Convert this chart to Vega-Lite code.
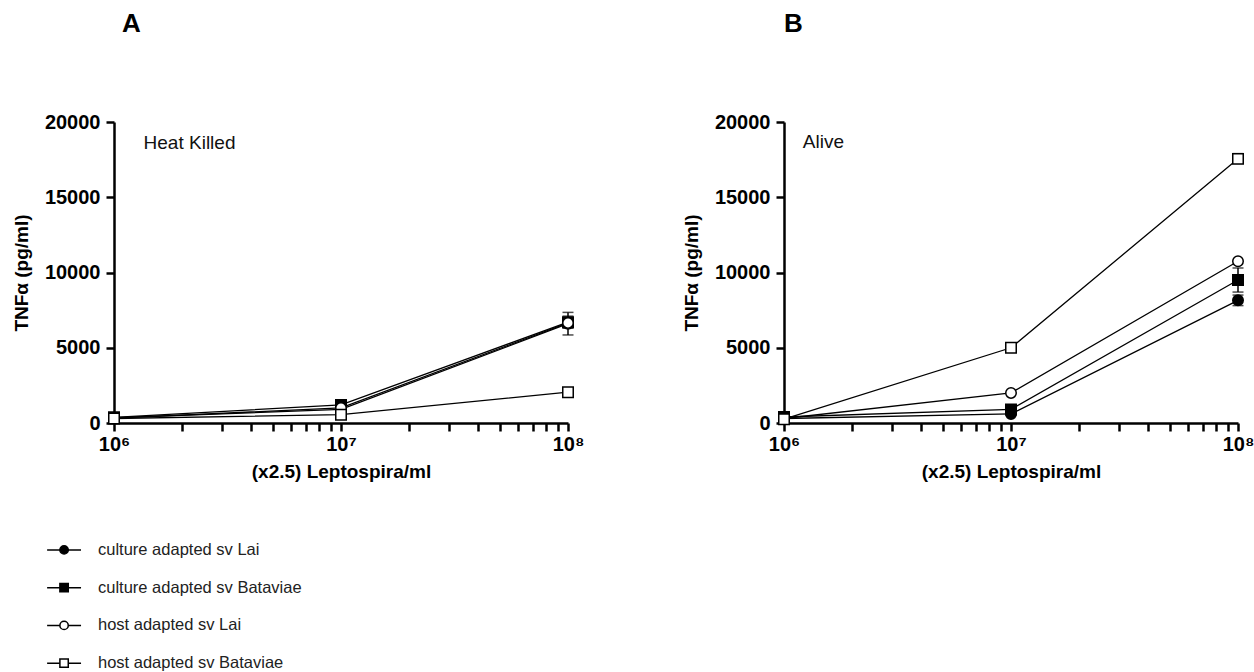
{
  "$schema": "https://vega.github.io/schema/vega-lite/v6.json",
  "padding": {"left": 12, "top": 11, "right": 5, "bottom": 0},
  "background": "white",
  "config": {
    "view": {"stroke": null},
    "font": "Liberation Sans",
    "axis": {
      "grid": false,
      "domainColor": "black", "domainWidth": 2.5,
      "tickColor": "black", "tickWidth": 2.5, "tickSize": 8,
      "labelFont": "Liberation Sans", "labelFontSize": 20, "labelFontWeight": "bold", "labelColor": "black",
      "titleFont": "Liberation Sans", "titleFontSize": 19, "titleFontWeight": "bold", "titleColor": "black"
    },
    "title": {"font": "Liberation Sans", "fontSize": 26, "fontWeight": "bold", "color": "black", "anchor": "start", "frame": "group"}
  },
  "datasets": {
    "tnf": [
      {"panel": "A", "series": "culture adapted sv Lai", "dose": 1000000, "tnf": 350, "lo": null, "hi": null},
      {"panel": "A", "series": "culture adapted sv Lai", "dose": 10000000, "tnf": 900, "lo": null, "hi": null},
      {"panel": "A", "series": "culture adapted sv Lai", "dose": 100000000, "tnf": 6600, "lo": 5850, "hi": 7350},
      {"panel": "A", "series": "culture adapted sv Bataviae", "dose": 1000000, "tnf": 380, "lo": null, "hi": null},
      {"panel": "A", "series": "culture adapted sv Bataviae", "dose": 10000000, "tnf": 1200, "lo": 1000, "hi": 1400},
      {"panel": "A", "series": "culture adapted sv Bataviae", "dose": 100000000, "tnf": 6700, "lo": 6300, "hi": 7100},
      {"panel": "A", "series": "host adapted sv Lai", "dose": 1000000, "tnf": 330, "lo": null, "hi": null},
      {"panel": "A", "series": "host adapted sv Lai", "dose": 10000000, "tnf": 1000, "lo": null, "hi": null},
      {"panel": "A", "series": "host adapted sv Lai", "dose": 100000000, "tnf": 6650, "lo": 6350, "hi": 6950},
      {"panel": "A", "series": "host adapted sv Bataviae", "dose": 1000000, "tnf": 300, "lo": null, "hi": null},
      {"panel": "A", "series": "host adapted sv Bataviae", "dose": 10000000, "tnf": 550, "lo": null, "hi": null},
      {"panel": "A", "series": "host adapted sv Bataviae", "dose": 100000000, "tnf": 2050, "lo": null, "hi": null},
      {"panel": "B", "series": "culture adapted sv Lai", "dose": 1000000, "tnf": 300, "lo": null, "hi": null},
      {"panel": "B", "series": "culture adapted sv Lai", "dose": 10000000, "tnf": 600, "lo": null, "hi": null},
      {"panel": "B", "series": "culture adapted sv Lai", "dose": 100000000, "tnf": 8150, "lo": 7800, "hi": 8500},
      {"panel": "B", "series": "culture adapted sv Bataviae", "dose": 1000000, "tnf": 400, "lo": null, "hi": null},
      {"panel": "B", "series": "culture adapted sv Bataviae", "dose": 10000000, "tnf": 900, "lo": null, "hi": null},
      {"panel": "B", "series": "culture adapted sv Bataviae", "dose": 100000000, "tnf": 9500, "lo": 8700, "hi": 10300},
      {"panel": "B", "series": "host adapted sv Lai", "dose": 1000000, "tnf": 300, "lo": null, "hi": null},
      {"panel": "B", "series": "host adapted sv Lai", "dose": 10000000, "tnf": 2000, "lo": null, "hi": null},
      {"panel": "B", "series": "host adapted sv Lai", "dose": 100000000, "tnf": 10750, "lo": null, "hi": null},
      {"panel": "B", "series": "host adapted sv Bataviae", "dose": 1000000, "tnf": 250, "lo": null, "hi": null},
      {"panel": "B", "series": "host adapted sv Bataviae", "dose": 10000000, "tnf": 5000, "lo": null, "hi": null},
      {"panel": "B", "series": "host adapted sv Bataviae", "dose": 100000000, "tnf": 17550, "lo": 17250, "hi": 17900}
    ],
    "legend": [
      {"series": "culture adapted sv Lai"},
      {"series": "culture adapted sv Bataviae"},
      {"series": "host adapted sv Lai"},
      {"series": "host adapted sv Bataviae"}
    ]
  },
  "vconcat": [
    {
      "hconcat": [
        {
          "title": {"text": "A", "offset": 75, "dx": 8},
          "width": 454, "height": 301,
          "data": {"name": "tnf"},
          "transform": [{"filter": "datum.panel == 'A'"}],
          "encoding": {
            "x": {"field": "dose", "type": "quantitative",
              "scale": {"type": "log", "domain": [1000000, 100000000], "nice": false},
              "axis": {"title": "(x2.5) Leptospira/ml", "values": [1000000,2000000,3000000,4000000,5000000,6000000,7000000,8000000,9000000,10000000,20000000,30000000,40000000,50000000,60000000,70000000,80000000,90000000,100000000],
                "labelExpr": "datum.value == 1000000 ? '10⁶' : datum.value == 10000000 ? '10⁷' : datum.value == 100000000 ? '10⁸' : ''",
                "labelPadding": 3, "titlePadding": 8, "labelFlush": false, "labelOverlap": false}},
            "y": {"field": "tnf", "type": "quantitative",
              "scale": {"domain": [0, 20000], "nice": false},
              "axis": {"title": "TNFα  (pg/ml)", "values": [0,5000,10000,15000,20000], "format": "d", "labelPadding": 6, "titlePadding": 13}}
          },
          "layer": [
            {"mark": {"type": "line", "color": "black", "strokeWidth": 1.3},
             "encoding": {"detail": {"field": "series"}}},
            {"transform": [{"filter": "datum.hi != null"}],
             "mark": {"type": "rule", "color": "black", "strokeWidth": 1.5},
             "encoding": {"y": {"field": "lo", "type": "quantitative"}, "y2": {"field": "hi"}}},
            {"transform": [{"filter": "datum.hi != null"}],
             "mark": {"type": "tick", "orient": "horizontal", "color": "black", "size": 11, "thickness": 1.5},
             "encoding": {"y": {"field": "hi", "type": "quantitative"}}},
            {"transform": [{"filter": "datum.hi != null"}],
             "mark": {"type": "tick", "orient": "horizontal", "color": "black", "size": 11, "thickness": 1.5},
             "encoding": {"y": {"field": "lo", "type": "quantitative"}}},
            {"mark": {"type": "point", "filled": true, "stroke": "black", "strokeWidth": 1.5, "opacity": 1, "size": 110},
             "encoding": {
               "shape": {"field": "series", "type": "nominal", "legend": null,
                 "scale": {"domain": ["culture adapted sv Lai","culture adapted sv Bataviae","host adapted sv Lai","host adapted sv Bataviae"], "range": ["circle","square","circle","square"]}},
               "fill": {"field": "series", "type": "nominal", "legend": null,
                 "scale": {"domain": ["culture adapted sv Lai","culture adapted sv Bataviae","host adapted sv Lai","host adapted sv Bataviae"], "range": ["black","black","white","white"]}}
             }},
            {"transform": [{"filter": "datum.dose == 1000000 && datum.series == 'culture adapted sv Lai'"}],
             "mark": {"type": "text", "align": "left", "baseline": "middle", "fontSize": 19, "fontWeight": "normal", "font": "Liberation Sans", "color": "#111"},
             "encoding": {"x": {"datum": 1350000}, "y": {"datum": 18600}, "text": {"value": "Heat Killed"}}}
          ]
        },
        {
          "title": {"text": "B", "offset": 75, "dx": 0},
          "width": 454, "height": 301,
          "data": {"name": "tnf"},
          "transform": [{"filter": "datum.panel == 'B'"}],
          "encoding": {
            "x": {"field": "dose", "type": "quantitative",
              "scale": {"type": "log", "domain": [1000000, 100000000], "nice": false},
              "axis": {"title": "(x2.5) Leptospira/ml", "values": [1000000,2000000,3000000,4000000,5000000,6000000,7000000,8000000,9000000,10000000,20000000,30000000,40000000,50000000,60000000,70000000,80000000,90000000,100000000],
                "labelExpr": "datum.value == 1000000 ? '10⁶' : datum.value == 10000000 ? '10⁷' : datum.value == 100000000 ? '10⁸' : ''",
                "labelPadding": 3, "titlePadding": 8, "labelFlush": false, "labelOverlap": false}},
            "y": {"field": "tnf", "type": "quantitative",
              "scale": {"domain": [0, 20000], "nice": false},
              "axis": {"title": "TNFα  (pg/ml)", "values": [0,5000,10000,15000,20000], "format": "d", "labelPadding": 6, "titlePadding": 13}}
          },
          "layer": [
            {"mark": {"type": "line", "color": "black", "strokeWidth": 1.3},
             "encoding": {"detail": {"field": "series"}}},
            {"transform": [{"filter": "datum.hi != null"}],
             "mark": {"type": "rule", "color": "black", "strokeWidth": 1.5},
             "encoding": {"y": {"field": "lo", "type": "quantitative"}, "y2": {"field": "hi"}}},
            {"transform": [{"filter": "datum.hi != null"}],
             "mark": {"type": "tick", "orient": "horizontal", "color": "black", "size": 11, "thickness": 1.5},
             "encoding": {"y": {"field": "hi", "type": "quantitative"}}},
            {"transform": [{"filter": "datum.hi != null"}],
             "mark": {"type": "tick", "orient": "horizontal", "color": "black", "size": 11, "thickness": 1.5},
             "encoding": {"y": {"field": "lo", "type": "quantitative"}}},
            {"mark": {"type": "point", "filled": true, "stroke": "black", "strokeWidth": 1.5, "opacity": 1, "size": 110},
             "encoding": {
               "shape": {"field": "series", "type": "nominal", "legend": null,
                 "scale": {"domain": ["culture adapted sv Lai","culture adapted sv Bataviae","host adapted sv Lai","host adapted sv Bataviae"], "range": ["circle","square","circle","square"]}},
               "fill": {"field": "series", "type": "nominal", "legend": null,
                 "scale": {"domain": ["culture adapted sv Lai","culture adapted sv Bataviae","host adapted sv Lai","host adapted sv Bataviae"], "range": ["black","black","white","white"]}}
             }},
            {"transform": [{"filter": "datum.dose == 1000000 && datum.series == 'culture adapted sv Lai'"}],
             "mark": {"type": "text", "align": "left", "baseline": "middle", "fontSize": 19, "fontWeight": "normal", "font": "Liberation Sans", "color": "#111"},
             "encoding": {"x": {"datum": 1210000}, "y": {"datum": 18670}, "text": {"value": "Alive"}}}
          ]
        }
      ],
      "spacing": 98
    },
    {
      "width": 320, "height": 151,
      "data": {"name": "legend"},
      "encoding": {
        "y": {"field": "series", "type": "nominal", "sort": null, "scale": {"type": "point", "padding": 0.5}, "axis": null}
      },
      "layer": [
        {"mark": {"type": "rule", "color": "black", "strokeWidth": 1.5, "clip": false},
         "encoding": {"x": {"datum": -2.09, "type": "quantitative", "scale": {"domain": [0, 10]}, "axis": null}, "x2": {"datum": -1.03}}},
        {"mark": {"type": "point", "filled": true, "stroke": "black", "strokeWidth": 1.5, "opacity": 1, "size": 70, "clip": false},
         "encoding": {
           "x": {"datum": -1.56, "type": "quantitative"},
           "shape": {"field": "series", "type": "nominal", "legend": null,
             "scale": {"domain": ["culture adapted sv Lai","culture adapted sv Bataviae","host adapted sv Lai","host adapted sv Bataviae"], "range": ["circle","square","circle","square"]}},
           "fill": {"field": "series", "type": "nominal", "legend": null,
             "scale": {"domain": ["culture adapted sv Lai","culture adapted sv Bataviae","host adapted sv Lai","host adapted sv Bataviae"], "range": ["black","black","white","white"]}}
         }},
        {"mark": {"type": "text", "align": "left", "baseline": "middle", "fontSize": 16.5, "font": "Liberation Sans", "color": "#222", "clip": false},
         "encoding": {"x": {"datum": -0.5, "type": "quantitative"}, "text": {"field": "series"}}}
      ]
    }
  ],
  "spacing": 50
}
